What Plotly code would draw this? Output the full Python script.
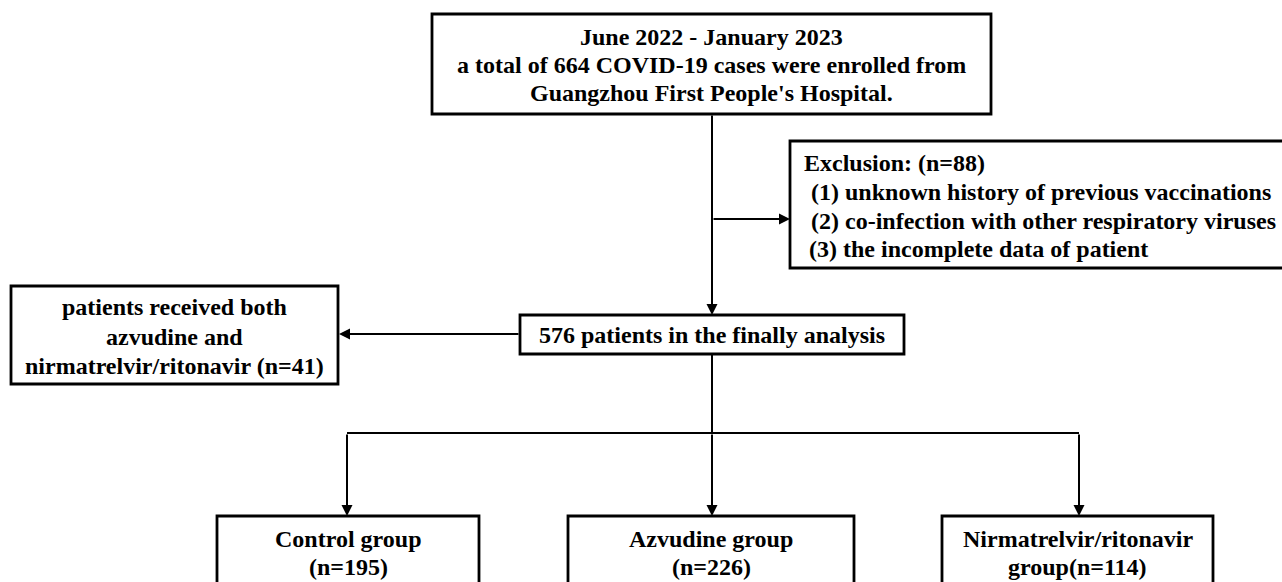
import plotly.graph_objects as go

# ---- data (flow counts and labels) ----
period = "June 2022 - January 2023"
hospital = "Guangzhou First People's Hospital."
total_cases = 664
excluded = 88
exclusion_reasons = [
    "(1) unknown history of previous vaccinations",
    "(2) co-infection with other respiratory viruses",
    "(3) the incomplete data of patient",
]
final_n = 576
both_n = 41
group_names = ["Control group", "Azvudine group", "Nirmatrelvir/ritonavir"]
group_n = [195, 226, 114]

W, H = 1282, 582
FONT = dict(family="Liberation Serif", size=24, color="black", weight="bold")

fig = go.Figure()
shapes = []
annotations = []


def box(x0, y0, x1, y1):
    shapes.append(dict(type="rect", xref="x", yref="y", x0=x0, y0=y0, x1=x1, y1=y1,
                       line=dict(color="black", width=2.8), fillcolor="rgba(0,0,0,0)", layer="above"))


def line(x0, y0, x1, y1):
    shapes.append(dict(type="line", xref="x", yref="y", x0=x0, y0=y0, x1=x1, y1=y1,
                       line=dict(color="black", width=2)))


def arrow(x0, y0, x1, y1):
    annotations.append(dict(x=x1, y=y1, ax=x0, ay=y0, xref="x", yref="y", axref="x", ayref="y",
                            text="", showarrow=True, arrowhead=2, arrowsize=1.1, arrowwidth=2,
                            arrowcolor="black", standoff=0, startstandoff=0))


def text(x, y, s, anchor="center"):
    annotations.append(dict(x=x, y=y, xref="x", yref="y", text="<b>" + s + "</b>", showarrow=False,
                            xanchor=anchor, yanchor="middle", font=FONT))


# top box
box(432, 14, 991, 114)
top_lines = [period, f"a total of {total_cases} COVID-19 cases were enrolled from", hospital]
for i, s in enumerate(top_lines):
    text(711.5, 37 + 28 * i, s)

# main vertical to final box
arrow(712, 114, 712, 315)
# branch to exclusion
arrow(712, 219, 790, 219)

# exclusion box (extends beyond right edge)
box(790, 141, 1300, 268)
text(802, 163, f"Exclusion: (n={excluded})", anchor="left")
for i, s in enumerate(exclusion_reasons):
    text(809 if i < 2 else 807, 192 + 28.5 * i, s, anchor="left")

# final analysis box
box(520, 315, 904, 354)
text(712, 335, f"{final_n} patients in the finally analysis")

# arrow to left box
arrow(520, 334, 339, 334)
box(11, 286, 338, 384)
left_lines = ["patients received both", "azvudine and", f"nirmatrelvir/ritonavir (n={both_n})"]
for i, s in enumerate(left_lines):
    text(174.5, 307 + 29.5 * i, s)

# split to groups
line(712, 354, 712, 433)
line(347, 433, 1079, 433)
group_x = [347, 712, 1079]
group_boxes = [(217, 479), (568, 854), (942, 1213)]
group_labels = [
    [group_names[0], f"(n={group_n[0]})"],
    [group_names[1], f"(n={group_n[1]})"],
    [group_names[2], f"group(n={group_n[2]})"],
]
for gx, (bx0, bx1), labs in zip(group_x, group_boxes, group_labels):
    arrow(gx, 433, gx, 516)
    box(bx0, 516, bx1, 620)
    cx = (bx0 + bx1) / 2
    text(cx, 539, labs[0])
    text(cx, 567, labs[1])

fig.update_layout(
    width=W, height=H,
    margin=dict(l=0, r=0, t=0, b=0),
    paper_bgcolor="white", plot_bgcolor="white",
    xaxis=dict(range=[0, W], visible=False, fixedrange=True),
    yaxis=dict(range=[H, 0], visible=False, fixedrange=True),
    shapes=shapes, annotations=annotations,
    showlegend=False,
)
fig.write_html("out.html", config={"displayModeBar": False},
               post_script="document.body.style.margin='0px';document.body.style.overflow='hidden';")
